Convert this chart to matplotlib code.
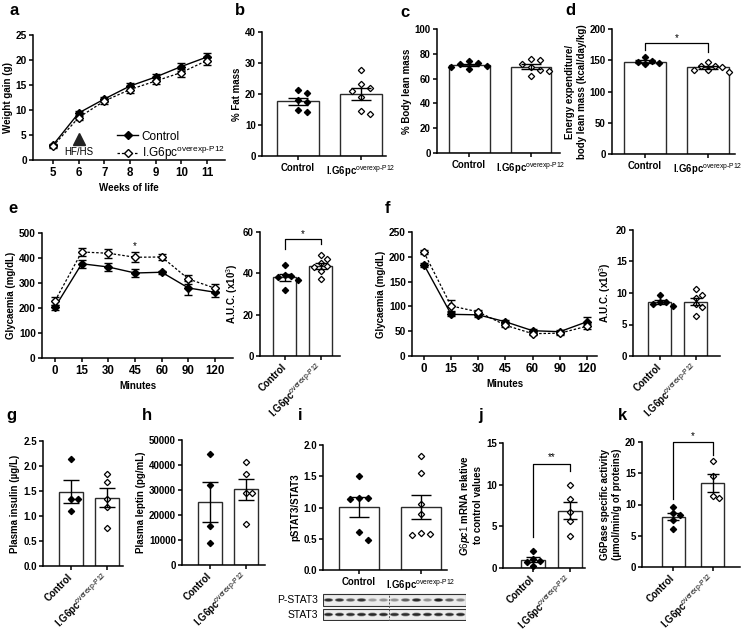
import numpy as np
import matplotlib
matplotlib.use("Agg")
import matplotlib.pyplot as plt
from matplotlib.patches import Rectangle, Ellipse
from matplotlib.lines import Line2D

plt.rcParams['font.family'] = ['Liberation Sans', 'DejaVu Sans']
plt.rcParams['mathtext.fontset'] = 'custom'
plt.rcParams['mathtext.rm'] = 'Liberation Sans'
plt.rcParams['mathtext.it'] = 'Liberation Sans:italic:bold'
plt.rcParams['mathtext.bf'] = 'Liberation Sans:bold'
plt.rcParams['axes.linewidth'] = 1.1
plt.rcParams['xtick.major.width'] = 1.1
plt.rcParams['ytick.major.width'] = 1.1
plt.rcParams['xtick.major.size'] = 3
plt.rcParams['ytick.major.size'] = 3
plt.rcParams['xtick.major.pad'] = 2
plt.rcParams['ytick.major.pad'] = 1.5

# ---------------- data ----------------
groups = ['Control', 'I.G6pc overexp-P12']

weeks = [5, 6, 7, 8, 9, 10, 11]
wg_ctrl = [3.0, 9.4, 12.2, 14.8, 16.6, 18.7, 20.6]
wg_ctrl_err = [0.3, 0.5, 0.5, 0.7, 0.7, 0.8, 0.8]
wg_ig = [2.8, 8.5, 11.8, 14.1, 15.8, 17.5, 19.9]
wg_ig_err = [0.3, 0.5, 0.5, 0.6, 0.6, 0.8, 0.8]

fat_ctrl = [20.3, 21.2, 17.5, 18.0, 14.1, 15.0]
fat_ig = [27.6, 22.0, 23.1, 21.0, 19.0, 13.4, 14.5]
lean_ctrl = [67.6, 72.4, 71.6, 74.5, 70.2, 69.7]
lean_ig = [76, 75, 72, 69, 67, 66, 62]
ee_ctrl = [154.8, 144, 149, 145, 147]
ee_ig = [146.8, 134.6, 141, 134.6, 141, 132, 139]

minutes = [0, 15, 30, 45, 60, 90, 120]
gtt_ctrl = [204, 377, 364, 340, 343, 280, 263]
gtt_ctrl_err = [10, 17, 17, 17, 6, 28, 17]
gtt_ig = [229, 424, 419, 403, 404, 316, 279]
gtt_ig_err = [15, 15, 18, 20, 12, 18, 17]
gtt_auc_ctrl = [44, 39, 38.5, 38, 37, 32]
gtt_auc_ig = [49, 47, 45, 43.5, 43, 41, 37.5]

itt_ctrl = [184, 84, 83, 69, 51, 49, 69]
itt_ctrl_err = [4, 4, 4, 4, 4, 4, 9]
itt_ig = [209, 101, 89, 62, 45, 46, 60]
itt_ig_err = [4, 11, 4, 4, 3, 4, 5]
itt_auc_ctrl = [9.7, 8.6, 8.5, 8.3, 8.0]
itt_auc_ig = [10.6, 9.7, 9.2, 8.2, 7.8, 6.4]

ins_ctrl = [2.14, 1.35, 1.35, 1.11]
ins_ig = [1.85, 1.69, 1.35, 1.19, 0.77]
lep_ctrl = [44300, 32000, 15700, 8900]
lep_ig = [41200, 36300, 28900, 28900, 16300]
pstat_ctrl = [1.50, 1.15, 1.16, 1.14, 0.61, 0.48]
pstat_ig = [1.83, 1.56, 1.05, 0.90, 0.56, 0.60, 0.58]
g6pc_ctrl = [2.0, 1.1, 0.9, 0.7, 0.3]
g6pc_ig = [10.0, 8.3, 6.7, 5.6, 3.9]
g6pase_ctrl = [9.6, 8.4, 8.6, 7.5, 6.1]
g6pase_ig = [17.0, 14.5, 11.1, 11.3]

blot_pstat3 = [0.9, 0.85, 0.6, 0.85, 0.3, 0.35, 0.35, 0.6, 0.9, 0.35, 1.0, 0.6, 0.4]
blot_stat3 = [0.95, 0.95, 0.9, 0.95, 0.95, 0.95, 0.9, 0.9, 0.95, 0.95, 0.95, 0.9, 0.95]

# ---------------- layout helpers ----------------
W, H = 743, 632
fig = plt.figure(figsize=(W / 100, H / 100), dpi=100)

IGLAB = 'I.G6pc$^{\\mathrm{overexp\u2010P12}}$'
FS = 7


def add_ax(l, t, r, b):
    ax = fig.add_axes([l / W, 1 - b / H, (r - l) / W, (b - t) / H])
    ax.spines['top'].set_visible(False)
    ax.spines['right'].set_visible(False)
    ax.tick_params(labelsize=FS)
    return ax


def boldticks(ax):
    for lab in ax.get_xticklabels() + ax.get_yticklabels():
        lab.set_fontweight('bold')


def swarm(ax, x0, vals, d=7.0):
    tr = ax.transData
    px0 = tr.transform((x0, 0))[0]
    ppu = tr.transform((x0 + 1, 0))[0] - px0
    py = [tr.transform((x0, v))[1] for v in vals]
    order = sorted(range(len(vals)), key=lambda i: -vals[i])
    placed = []
    out = [x0] * len(vals)
    for i in order:
        cx = px0
        for k in [0, 1, -1, 2, -2, 3, -3, 4, -4]:
            cand = px0 + k * d
            if all((cand - a) ** 2 + (py[i] - b) ** 2 >= (d * 0.95) ** 2 for a, b in placed):
                cx = cand
                break
        placed.append((cx, py[i]))
        out[i] = x0 + (cx - px0) / ppu
    return out


def bar_panel(ax, ctrl, ig, ylim, yticks, ylabel, xlim, rotate=False, bw=0.66,
              cap=6, yticklabels=None, d=7.0):
    ax.set_xlim(*xlim)
    ax.set_ylim(*ylim)
    for x, vals, filled in [(0, ctrl, True), (1, ig, False)]:
        vals = np.asarray(vals, float)
        m = vals.mean()
        sem = vals.std(ddof=1) / np.sqrt(len(vals))
        ax.bar(x, m, width=bw, color='white', edgecolor='#2b2b2b', linewidth=1.0, zorder=1)
        xs = swarm(ax, x, list(vals), d=d)
        ax.plot(xs, vals, linestyle='none', marker='D', ms=3.2,
                mfc='black' if filled else 'white', mec='black', mew=0.9,
                zorder=3, clip_on=False)
        ax.errorbar(x, m, yerr=sem, fmt='none', ecolor='black', elinewidth=1.0,
                    capsize=cap, capthick=1.0, zorder=4)
    ax.set_yticks(yticks)
    if yticklabels is not None:
        ax.set_yticklabels(yticklabels)
    ax.set_xticks([0, 1])
    if rotate:
        ax.set_xticklabels(['Control', IGLAB], rotation=45, ha='right', va='center',
                           rotation_mode='anchor', fontsize=7)
        ax.tick_params(axis='x', pad=4)
    else:
        ax.set_xticklabels(['Control', IGLAB], fontsize=6.9)
    ax.set_ylabel(ylabel, fontsize=FS, fontweight='bold', labelpad=2)
    boldticks(ax)


def bracket(ax, x1, x2, y, y1, y2, label, ty):
    ax.plot([x1, x1, x2, x2], [y1, y, y, y2], color='black', lw=0.9,
            clip_on=False, zorder=5)
    ax.text((x1 + x2) / 2, ty, label, ha='center', va='center', fontsize=7)


def letter(x, y, s):
    fig.text(x / W, 1 - y / H, s, fontsize=12, fontweight='bold', ha='left',
             va='baseline')


def line_panel(ax, ctrl, cerr, ig, ierr):
    xi = np.arange(len(ctrl))
    ax.errorbar(xi, ctrl, yerr=cerr, color='black', lw=1.0, marker='D',
                ms=4.3, mfc='black', mec='black', capsize=3, elinewidth=1, zorder=3)
    ax.errorbar(xi, ig, yerr=ierr, color='black', lw=0.9, ls=(0, (2, 1.5)),
                marker='D', ms=4.3, mfc='white', mec='black', capsize=3,
                elinewidth=1, zorder=4)


# ---------------- panel a ----------------
ax = add_ax(33, 35, 225, 160)
ax.set_xlim(4.22, 11.7)
ax.set_ylim(0, 25)
ax.errorbar(weeks, wg_ctrl, yerr=wg_ctrl_err, color='black', lw=1.0, marker='D',
            ms=4.3, mfc='black', mec='black', capsize=3, elinewidth=1, zorder=3)
ax.errorbar(weeks, wg_ig, yerr=wg_ig_err, color='black', lw=0.9, ls=(0, (2, 1.5)),
            marker='D', ms=4.3, mfc='white', mec='black', capsize=3, elinewidth=1,
            zorder=4)
ax.set_xticks(weeks)
ax.set_yticks([0, 5, 10, 15, 20, 25])
ax.tick_params(axis='x', labelsize=8.3)
ax.tick_params(axis='y', labelsize=7.3)
ax.set_xlabel('Weeks of life', fontsize=FS, fontweight='bold', labelpad=3)
ax.set_ylabel('Weight gain (g)', fontsize=FS, fontweight='bold', labelpad=2)
boldticks(ax)
ax.plot([6], [4.3], marker='^', ms=8, color='#222222', clip_on=False)
ax.text(6, 1.6, 'HF/HS', ha='center', va='center', fontsize=7)
handles = [Line2D([], [], color='black', lw=1.0, marker='D', ms=4.3, mfc='black'),
           Line2D([], [], color='black', lw=0.9, ls=(0, (2, 1.5)), marker='D', ms=4.3,
                  mfc='white', mec='black')]
ax.legend(handles, ['Control', 'I.G6pc$^{\\mathrm{overexp\u2010P12}}$'],
          loc='lower left', bbox_to_anchor=(0.44, -0.02), frameon=False,
          fontsize=8.5, handlelength=1.7, handletextpad=0.35, labelspacing=0.15,
          borderpad=0, borderaxespad=0)

# ---------------- panel b, c, d ----------------
ax = add_ax(262, 32, 386, 156)
bar_panel(ax, fat_ctrl, fat_ig, (0, 40), [0, 10, 20, 30, 40], '% Fat mass',
          (-0.57, 1.40), cap=7, d=9)

ax = add_ax(437, 29, 560, 153)
bar_panel(ax, lean_ctrl, lean_ig, (0, 100), [0, 20, 40, 60, 80, 100],
          '% Body lean mass', (-0.52, 1.47), cap=7, d=9)

ax = add_ax(612, 29, 735, 154)
bar_panel(ax, ee_ctrl, ee_ig, (0, 200), [0, 50, 100, 150, 200],
          'Energy expenditure/\nbody lean mass (kcal/day/kg)', (-0.52, 1.43), cap=7,
          d=7)
bracket(ax, 0, 1, 178, 167, 163, '*', 186)

# ---------------- panel e ----------------
ax = add_ax(42, 233, 233, 358)
ax.set_xlim(-0.49, 6.67)
ax.set_ylim(0, 500)
line_panel(ax, gtt_ctrl, gtt_ctrl_err, gtt_ig, gtt_ig_err)
ax.set_xticks(np.arange(len(minutes)))
ax.set_xticklabels([str(m) for m in minutes])
ax.set_yticks([0, 100, 200, 300, 400, 500])
ax.tick_params(axis='x', labelsize=8.3)
ax.tick_params(axis='y', labelsize=7.3)
ax.set_xlabel('Minutes', fontsize=FS, fontweight='bold', labelpad=3)
ax.set_ylabel('Glycaemia (mg/dL)', fontsize=FS, fontweight='bold', labelpad=2)
boldticks(ax)
ax.text(3, 447, '*', ha='center', va='center', fontsize=7)

ax = add_ax(260, 232, 340, 356)
bar_panel(ax, gtt_auc_ctrl, gtt_auc_ig, (0, 60), [0, 20, 40, 60],
          'A.U.C. (x10$^{3}$)', (-0.69, 1.53), rotate=True, bw=0.64, cap=4, d=6.5)
bracket(ax, 0, 1, 56.6, 52, 54, '*', 58.8)

# ---------------- panel f ----------------
ax = add_ax(412, 232, 597, 356)
ax.set_xlim(-0.44, 6.37)
ax.set_ylim(0, 250)
line_panel(ax, itt_ctrl, itt_ctrl_err, itt_ig, itt_ig_err)
ax.set_xticks(np.arange(len(minutes)))
ax.set_xticklabels([str(m) for m in minutes])
ax.set_yticks([0, 50, 100, 150, 200, 250])
ax.tick_params(axis='x', labelsize=8.3)
ax.tick_params(axis='y', labelsize=7.3)
ax.set_xlabel('Minutes', fontsize=FS, fontweight='bold', labelpad=3)
ax.set_ylabel('Glycaemia (mg/dL)', fontsize=FS, fontweight='bold', labelpad=2)
boldticks(ax)

ax = add_ax(633, 230, 720, 356)
bar_panel(ax, itt_auc_ctrl, itt_auc_ig, (0, 20), [0, 5, 10, 15, 20],
          'A.U.C. (x10$^{3}$)', (-0.75, 1.67), rotate=True, bw=0.64, cap=4, d=6.5)

# ---------------- panel g, h ----------------
ax = add_ax(43, 441, 123, 566)
bar_panel(ax, ins_ctrl, ins_ig, (0, 2.5), [0, 0.5, 1.0, 1.5, 2.0, 2.5],
          'Plasma insulin (\u00b5g/L)', (-0.78, 1.44), rotate=True, bw=0.66, cap=6,
          yticklabels=['0.0', '0.5', '1.0', '1.5', '2.0', '2.5'], d=6.5)

ax = add_ax(182, 440, 265, 565)
bar_panel(ax, lep_ctrl, lep_ig, (0, 50000), [0, 10000, 20000, 30000, 40000, 50000],
          'Plasma leptin (pg/mL)', (-0.78, 1.53), rotate=True, bw=0.66, cap=6, d=6.5)

# ---------------- panel i ----------------
ax = add_ax(323, 445, 447, 570)
bar_panel(ax, pstat_ctrl, pstat_ig, (0, 2.0), [0, 0.5, 1.0, 1.5, 2.0],
          'pSTAT3/STAT3', (-0.58, 1.42), cap=7,
          yticklabels=['0.0', '0.5', '1.0', '1.5', '2.0'], d=9)

# western blot
axb = fig.add_axes([323 / W, 1 - 621 / H, 143 / W, 28 / H])
axb.set_xlim(0, 13)
axb.set_ylim(0, 28)
axb.axis('off')
for (y0, y1), bands in [((15, 27), blot_pstat3), ((1, 12), blot_stat3)]:
    axb.add_patch(Rectangle((0, y0), 13, y1 - y0, facecolor='#ececec',
                            edgecolor='#333333', lw=0.8))
    yc = (y0 + y1) / 2
    for k, v in enumerate(bands):
        axb.add_patch(Ellipse((k + 0.5, yc), 0.85, 3.8, facecolor='black',
                              alpha=v * 0.45, edgecolor='none'))
        axb.add_patch(Ellipse((k + 0.5, yc), 0.7, 2.4, facecolor='black',
                              alpha=v * 0.75, edgecolor='none'))
axb.plot([6, 6], [0.5, 27.5], color='#555555', lw=0.7, ls=(0, (2, 1.5)))
fig.text(318 / W, 1 - 600 / H, 'P-STAT3', ha='right', va='center', fontsize=7.5)
fig.text(318 / W, 1 - 615 / H, 'STAT3', ha='right', va='center', fontsize=7.5)

# ---------------- panel j, k ----------------
ax = add_ax(503, 443, 585, 568)
bar_panel(ax, g6pc_ctrl, g6pc_ig, (0, 15), [0, 5, 10, 15],
          '$\\mathit{G6pc1}$ mRNA relative\nto control values', (-0.81, 1.40),
          rotate=True, bw=0.64, cap=5, d=6.5)
bracket(ax, 0, 1, 12.5, 3.7, 11.7, '**', 13.3)

ax = add_ax(642, 442, 740, 567)
bar_panel(ax, g6pase_ctrl, g6pase_ig, (0, 20), [0, 5, 10, 15, 20],
          'G6Pase specific activity\n(\u00b5mol/min/g of proteins)', (-0.78, 1.68),
          rotate=True, bw=0.58, cap=4.5, d=6.5)
bracket(ax, 0, 1, 20, 10.9, 18, '*', 20.9)

# ---------------- letters ----------------
letter(9, 15, 'a')
letter(235, 15, 'b')
letter(400, 17, 'c')
letter(565, 15, 'd')
letter(8, 213, 'e')
letter(385, 213, 'f')
letter(6, 420, 'g')
letter(142, 420, 'h')
letter(298, 420, 'i')
letter(478, 420, 'j')
letter(618, 420, 'k')

fig.savefig('out.png', dpi=100)
